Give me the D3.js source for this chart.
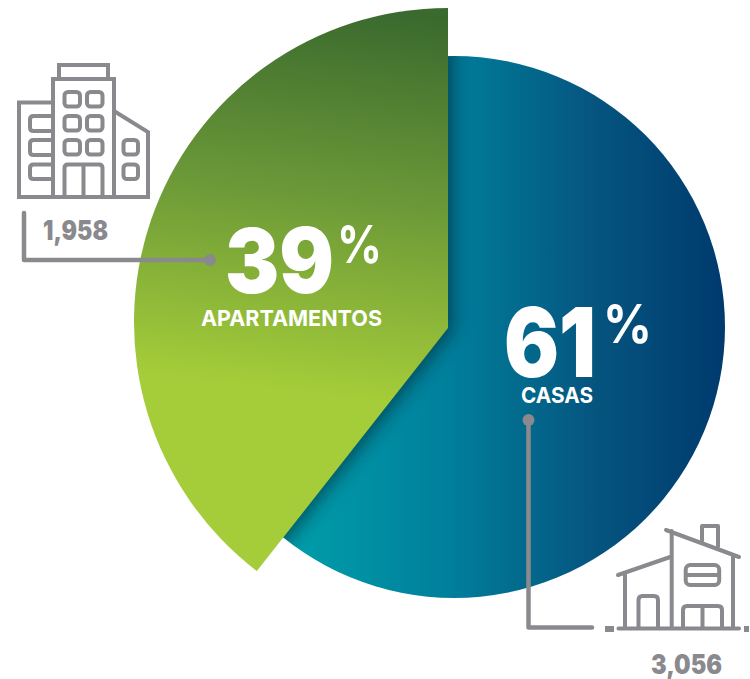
<!DOCTYPE html>
<html><head><meta charset="utf-8">
<script src="https://cdnjs.cloudflare.com/ajax/libs/d3/7.8.5/d3.min.js"></script>
<style>html,body{margin:0;padding:0;background:#fff}svg{display:block}</style>
</head><body><div id="c"></div>
<script>
const categories = ["APARTAMENTOS", "CASAS"];
const percents = [39, 61];
const counts = ["1,958", "3,056"];

const W = 750, H = 679, grey = "#8a8a8e", font = "Inter, 'Open Sans', sans-serif";
const svg = d3.select("#c").append("svg").attr("width", W).attr("height", H);
const defs = svg.append("defs");

function grad(id, x1, y1, x2, y2, stops) {
  const g = defs.append("linearGradient").attr("id", id).attr("gradientUnits", "userSpaceOnUse")
    .attr("x1", x1).attr("y1", y1).attr("x2", x2).attr("y2", y2);
  stops.forEach(s => g.append("stop").attr("offset", s[0]).attr("stop-color", s[1]));
}
grad("gBlue", 285, 0, 725, 0, [[0, "#009fab"], [0.38, "#007e9b"], [0.7, "#05557f"], [1, "#003a6e"]]);
grad("gGreen", 452, 20, 405, 405, [[0, "#3a6a2e"], [0.5, "#6d9a38"], [1, "#a5cd39"]]);

defs.append("filter").attr("id", "blur").attr("x", "-20%").attr("y", "-20%").attr("width", "140%").attr("height", "140%")
  .append("feGaussianBlur").attr("stdDeviation", 9);

// the angular scale reads the green slice off the picture: 39 units sweep 142.5 degrees
const angle = d3.scaleLinear().domain([0, percents[0]]).range([0, 142.5 * Math.PI / 180]);
const blueR = 271, greenR = 314;
const blueC = [454, 327], greenC = [448, 322], apexDrop = 6;

function circlePath() {
  const p = d3.path();
  p.arc(blueC[0], blueC[1], blueR, 0, 2 * Math.PI);
  return p.toString();
}
defs.append("clipPath").attr("id", "clipBlue").append("path").attr("d", circlePath());
svg.append("path").attr("d", circlePath()).attr("fill", "url(#gBlue)");

function greenPath() {
  const p = d3.path(), [cx, cy] = greenC, a = angle(percents[0]);
  p.moveTo(cx, cy + apexDrop);
  p.lineTo(cx, cy - greenR);
  p.arc(cx, cy, greenR, -Math.PI / 2, -Math.PI / 2 - a, true);
  p.closePath();
  return p.toString();
}
svg.append("g").attr("clip-path", "url(#clipBlue)")
  .append("path").attr("d", greenPath()).attr("transform", "translate(5,2)")
  .attr("fill", "#00242f").attr("opacity", 0.6).attr("filter", "url(#blur)");
svg.append("path").attr("d", greenPath()).attr("fill", "url(#gGreen)");

// labels
function txt(s, x, y, size, width, fill, weight) {
  return svg.append("text").attr("x", x).attr("y", y).attr("font-family", font)
    .attr("font-size", size).attr("font-weight", weight || 800).attr("fill", fill)
    .attr("textLength", width).attr("lengthAdjust", "spacingAndGlyphs").text(s);
}
txt(percents[0], 225, 293, 90, 109, "#fff", 900);
txt("%", 337, 263, 52, 45, "#fff", 700);
txt(categories[0], 201, 326, 22, 181, "#fff", 700);
txt(percents[1], 504, 377, 96, 92, "#fff", 900);
txt("%", 603, 343, 54, 49, "#fff", 700);
txt(categories[1], 521, 403, 22, 72, "#fff", 700);
txt(counts[0], 43, 240, 27, 65, grey, 900);
txt(counts[1], 651, 674, 27, 71, grey, 900);

// connectors
const line = d3.line();
function conn(pts, dot) {
  svg.append("path").attr("d", line(pts)).attr("fill", "none").attr("stroke", grey)
    .attr("stroke-width", 4.5).attr("stroke-linecap", "round").attr("stroke-linejoin", "round");
  svg.append("circle").attr("cx", dot[0]).attr("cy", dot[1]).attr("r", 6).attr("fill", grey);
}
conn([[24, 213], [24, 260], [210, 260]], [210, 260]);
conn([[528.5, 420], [528.5, 627.5], [592, 627.5]], [528.5, 420]);

// icons
const icon = svg.append("g").attr("fill", "none").attr("stroke", grey).attr("stroke-width", 4)
  .attr("stroke-linejoin", "round");
const P = d => icon.append("path").attr("d", d);
const R = (x, y, w, h, r) => icon.append("rect").attr("x", x).attr("y", y).attr("width", w).attr("height", h).attr("rx", r);
// building
icon.append("path").attr("stroke-linejoin", "miter").attr("d",
  "M59 78V65H108V78M53 197V79H114V197M53 102.500H19V197H148V132L114 111");
[92, 116, 140].forEach(y => [64.500, 87].forEach(x => R(x, y, 15.500, 14.500, 3.500)));
P("M64.500 196V168Q64.500 164.500 68 164.500H99Q102.500 164.500 102.500 168V196M83.500 164.500V196");
P("M52 116H33.500Q30 116 30 119.500V127.500Q30 131 33.500 131H52M52 140H33.500Q30 140 30 143.500V151.500Q30 155 33.500 155H52M52 164.500H33.500Q30 164.500 30 168V175.500Q30 179 33.500 179H52");
[140, 164.500].forEach(y => R(123.500, y, 14.500, 14.500, 3.500));
// house
icon.attr("stroke-linecap", "round");
P("M618 575L671.700 556.500M625 575V628M671.700 531V628M666 530L739 557M733 556V628");
P("M702 541V526H718V546.500");
P("M618.500 628.500H739");
R(685.700, 565, 33.500, 20, 4.500);
P("M686 575H719");
P("M638.500 628V600Q638.500 596 642.500 596H654Q658 596 658 600V628");
P("M683 628V610Q683 606 687 606H718Q722 606 722 610V628M702.500 606V628");
icon.append("path").attr("stroke-linecap", "butt").attr("stroke-width", 6).attr("d", "M605 629H614M744 629H749");
</script></body></html>
